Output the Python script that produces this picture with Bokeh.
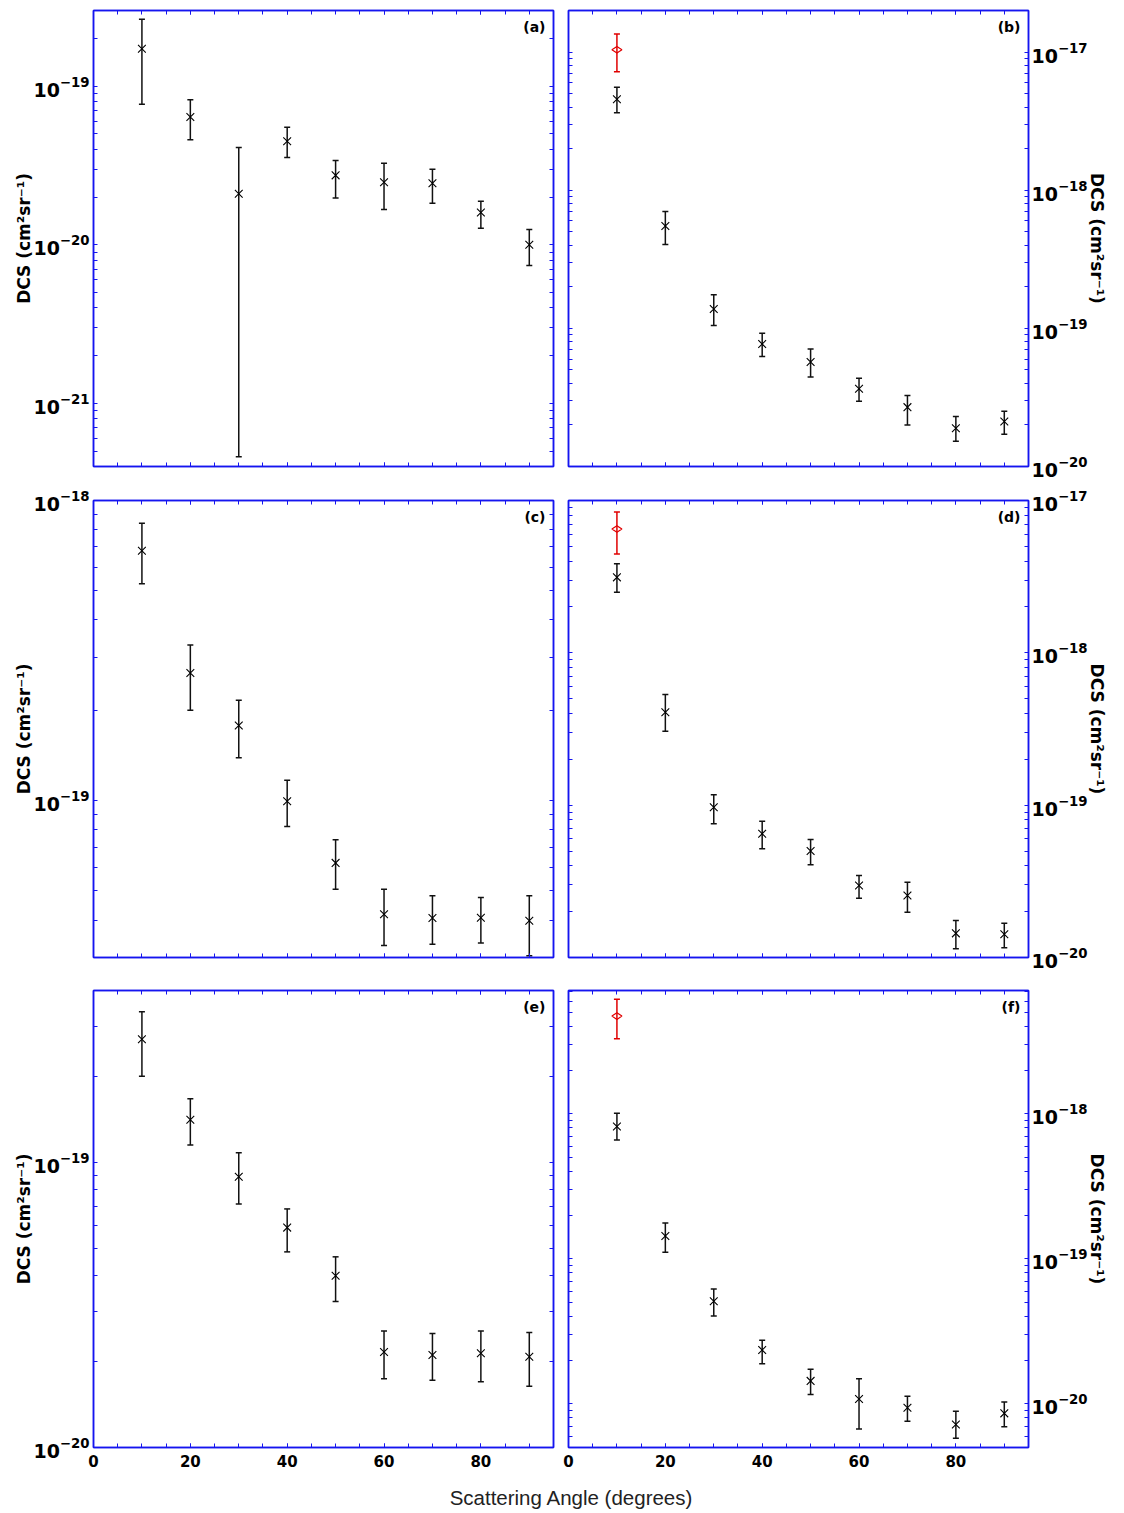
import numpy as np
from bokeh.plotting import figure
from bokeh.models import (Range1d, LogAxis, LinearAxis, FixedTicker, LogTickFormatter,
                          CustomJSTickFormatter, Whisker, TeeHead, ColumnDataSource, Label, Div)
from bokeh.layouts import column, row
from bokeh.embed import file_html
from bokeh.resources import INLINE

# ---------------- data ----------------
angle = [10, 20, 30, 40, 50, 60, 70, 80, 90]
x_tick_labels = [0, 20, 40, 60, 80]
red_angle = [10]

# (a)
dcs_a = [1.72e-19, 6.4e-20, 2.1e-20, 4.5e-20, 2.74e-20, 2.48e-20, 2.44e-20, 1.6e-20, 1.0e-20]
hi_a = [2.64e-19, 8.2e-20, 4.1e-20, 5.5e-20, 3.4e-20, 3.27e-20, 2.99e-20, 1.88e-20, 1.25e-20]
lo_a = [7.7e-20, 4.6e-20, 4.6e-22, 3.55e-20, 1.97e-20, 1.67e-20, 1.83e-20, 1.27e-20, 7.4e-21]
# (b)
dcs_b = [4.55e-18, 5.5e-19, 1.38e-19, 7.7e-20, 5.7e-20, 3.65e-20, 2.69e-20, 1.89e-20, 2.12e-20]
hi_b = [5.57e-18, 7.0e-19, 1.75e-19, 9.2e-20, 7.1e-20, 4.35e-20, 3.27e-20, 2.3e-20, 2.51e-20]
lo_b = [3.64e-18, 4.05e-19, 1.05e-19, 6.25e-20, 4.44e-20, 2.97e-20, 2.0e-20, 1.52e-20, 1.71e-20]
red_b = [1.04e-17]
red_hi_b = [1.35e-17]
red_lo_b = [7.2e-18]
# (c)
dcs_c = [6.8e-19, 2.66e-19, 1.78e-19, 9.95e-20, 6.2e-20, 4.18e-20, 4.06e-20, 4.07e-20, 3.98e-20]
hi_c = [8.4e-19, 3.3e-19, 2.16e-19, 1.17e-19, 7.4e-20, 5.06e-20, 4.82e-20, 4.75e-20, 4.82e-20]
lo_c = [5.28e-19, 2.0e-19, 1.39e-19, 8.2e-20, 5.06e-20, 3.29e-20, 3.32e-20, 3.35e-20, 3.04e-20]
# (d)
dcs_d = [3.13e-18, 4.07e-19, 9.7e-20, 6.5e-20, 5.0e-20, 2.97e-20, 2.55e-20, 1.44e-20, 1.42e-20]
hi_d = [3.84e-18, 5.32e-19, 1.17e-19, 7.85e-20, 5.96e-20, 3.45e-20, 3.12e-20, 1.75e-20, 1.68e-20]
lo_d = [2.5e-18, 3.06e-19, 7.55e-20, 5.18e-20, 4.07e-20, 2.45e-20, 1.98e-20, 1.14e-20, 1.16e-20]
red_d = [6.5e-18]
red_hi_d = [8.4e-18]
red_lo_d = [4.46e-18]
# (e)
dcs_e = [2.7e-19, 1.41e-19, 8.9e-20, 5.9e-20, 4.0e-20, 2.16e-20, 2.11e-20, 2.14e-20, 2.08e-20]
hi_e = [3.37e-19, 1.67e-19, 1.08e-19, 6.86e-20, 4.66e-20, 2.56e-20, 2.51e-20, 2.56e-20, 2.53e-20]
lo_e = [2.0e-19, 1.15e-19, 7.14e-20, 4.85e-20, 3.25e-20, 1.74e-20, 1.72e-20, 1.7e-20, 1.64e-20]
# (f)
dcs_f = [8.2e-19, 1.44e-19, 5.1e-20, 2.35e-20, 1.44e-20, 1.08e-20, 9.4e-21, 7.2e-21, 8.6e-21]
hi_f = [1.01e-18, 1.77e-19, 6.2e-20, 2.75e-20, 1.73e-20, 1.49e-20, 1.13e-20, 8.9e-21, 1.03e-20]
lo_f = [6.6e-19, 1.11e-19, 4.04e-20, 1.89e-20, 1.16e-20, 6.7e-21, 7.6e-21, 5.8e-21, 6.95e-21]
red_f = [4.73e-18]
red_hi_f = [6.17e-18]
red_lo_f = [3.3e-18]

# axis ranges and tick labels (decades)
yr_a = (4.0e-22, 3.0e-19)
yr_b = (0.9999e-20, 2.0e-17)
yr_c = (3.0e-20, 1.0001e-18)
yr_d = (0.9999e-20, 1.0001e-17)
yr_e = (0.9999e-20, 4.0e-19)
yr_f = (5.0e-21, 7.1e-18)
ticks_a = [1e-21, 1e-20, 1e-19]
ticks_b = [1e-20, 1e-19, 1e-18, 1e-17]
ticks_c = [1e-19, 1e-18]
ticks_d = [1e-20, 1e-19, 1e-18, 1e-17]
ticks_e = [1e-20, 1e-19]
ticks_f = [1e-20, 1e-19, 1e-18]

Y_TITLE = "DCS (cm\u00b2sr\u207b\u00b9)"
X_TITLE = "Scattering Angle (degrees)"

BLUE = "#1515f0"
TICK_FONT = "DejaVu Sans"


def log_minors(lo, hi):
    out = []
    for n in range(int(np.floor(np.log10(lo))), int(np.ceil(np.log10(hi))) + 1):
        for k in range(2, 10):
            v = k * 10.0 ** n
            if lo <= v <= hi:
                out.append(v)
    return out


def style_axis(ax, show_labels):
    ax.axis_line_color = BLUE
    ax.axis_line_width = 1.5
    ax.major_tick_line_color = BLUE
    ax.minor_tick_line_color = BLUE
    ax.major_tick_line_width = 1
    ax.minor_tick_line_width = 1
    ax.major_tick_in = 4
    ax.major_tick_out = 0
    ax.minor_tick_in = 4
    ax.minor_tick_out = 0
    ax.major_label_text_font = TICK_FONT
    ax.major_label_text_font_style = "bold"
    ax.major_label_text_color = "black"
    if not show_labels:
        ax.formatter = CustomJSTickFormatter(code="return ''")
        ax.major_label_standoff = 0


def make_panel(letter, yr, majors, dcs, lo, hi, side, row_idx, red=None):
    frame_h = 456 if row_idx == 0 else 457
    btop = [10, 18, 17][row_idx]
    bbot = [16, 16, 38][row_idx]
    if side == "left":
        bl, br = 93, 8
    else:
        bl, br = 7, 88
    p = figure(frame_width=460, frame_height=frame_h, y_axis_type="log",
               x_range=Range1d(0, 95), y_range=Range1d(yr[0], yr[1]),
               x_axis_location=None, y_axis_location=None,
               output_backend="svg", toolbar_location=None, tools="",
               min_border_left=bl, min_border_right=br,
               min_border_top=btop, min_border_bottom=bbot,
               background_fill_color="white", border_fill_color="white")
    p.outline_line_color = BLUE
    p.outline_line_width = 1.5
    p.grid.visible = False

    minors = log_minors(yr[0], yr[1])
    x_minors = list(range(0, 96, 5))

    # y axes (labelled one + mirror)
    for loc in ("left", "right"):
        ax = LogAxis(ticker=FixedTicker(ticks=majors, minor_ticks=minors),
                     formatter=LogTickFormatter())
        labelled = (loc == side)
        style_axis(ax, labelled)
        if labelled:
            ax.major_label_text_font_size = "19px"
            ax.major_label_standoff = 4 if side == "left" else 3
            ax.axis_label = Y_TITLE
            ax.axis_label_text_font = TICK_FONT
            ax.axis_label_text_font_style = "bold"
            ax.axis_label_text_font_size = "17px"
            ax.axis_label_text_color = "black"
            ax.axis_label_standoff = -4
        p.add_layout(ax, loc)

    # x axes
    for loc in ("below", "above"):
        ax = LinearAxis(ticker=FixedTicker(ticks=x_tick_labels, minor_ticks=x_minors))
        labelled = (loc == "below" and row_idx == 2)
        style_axis(ax, labelled)
        if labelled:
            ax.major_label_text_font_size = "15px"
            ax.major_label_standoff = 7
        p.add_layout(ax, loc)

    src = ColumnDataSource(dict(x=angle, y=dcs, lo=lo, hi=hi))
    p.add_layout(Whisker(base="x", lower="lo", upper="hi", source=src, dimension="height",
                         line_color="#111111", line_width=1.5,
                         upper_head=TeeHead(size=6, line_color="#111111", line_width=1.5),
                         lower_head=TeeHead(size=6, line_color="#111111", line_width=1.5)))
    p.scatter("x", "y", source=src, marker="x", size=11, line_color="black", line_width=1.1)

    if red is not None:
        rsrc = ColumnDataSource(dict(x=red_angle, y=red[0], lo=red[1], hi=red[2]))
        p.add_layout(Whisker(base="x", lower="lo", upper="hi", source=rsrc, dimension="height",
                             line_color="#e00000", line_width=1.5,
                             upper_head=TeeHead(size=6, line_color="#e00000", line_width=1.5),
                             lower_head=TeeHead(size=6, line_color="#e00000", line_width=1.5)))
        p.scatter("x", "y", source=rsrc, marker="diamond", size=10, angle=np.pi / 2,
                  line_color="#e00000", fill_color=None, line_width=1.2)

    p.add_layout(Label(x=452, y=frame_h - 16, x_units="screen", y_units="screen",
                       text=letter, text_align="right", text_baseline="middle",
                       text_font=TICK_FONT, text_font_style="bold",
                       text_font_size="14px", text_color="black"))
    return p


pa = make_panel("(a)", yr_a, ticks_a, dcs_a, lo_a, hi_a, "left", 0)
pb = make_panel("(b)", yr_b, ticks_b, dcs_b, lo_b, hi_b, "right", 0, (red_b, red_lo_b, red_hi_b))
pc = make_panel("(c)", yr_c, ticks_c, dcs_c, lo_c, hi_c, "left", 1)
pd = make_panel("(d)", yr_d, ticks_d, dcs_d, lo_d, hi_d, "right", 1, (red_d, red_lo_d, red_hi_d))
pe = make_panel("(e)", yr_e, ticks_e, dcs_e, lo_e, hi_e, "left", 2)
pf = make_panel("(f)", yr_f, ticks_f, dcs_f, lo_f, hi_f, "right", 2, (red_f, red_lo_f, red_hi_f))

title = Div(text=('<div style="font-family: \'Liberation Sans\', Arial, sans-serif; '
                  'font-size: 20.5px; color: #222; text-align: center; line-height: 25px; '
                  'width: 1108px; box-sizing: border-box; padding-left: 34px;">'
                  + X_TITLE + '</div>'),
            width=1108, height=25, margin=0)

layout = column(row(pa, pb), row(pc, pd), row(pe, pf), title)

open("out.html", "w").write(file_html(layout, INLINE))
